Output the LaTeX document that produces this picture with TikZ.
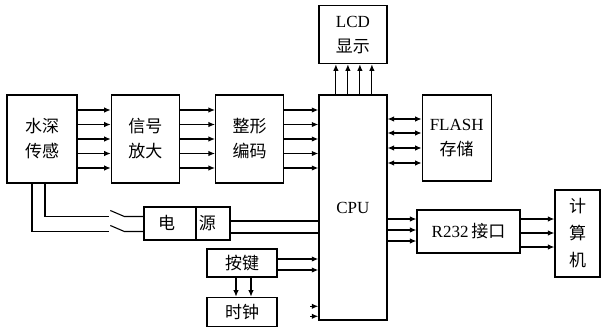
\documentclass[tikz,border=0pt]{standalone}
\usepackage{fontspec}
\setmainfont{Liberation Serif}
\newfontfamily\cjk{Noto Sans CJK SC}
\usetikzlibrary{arrows.meta,positioning}

\begin{document}
\begin{tikzpicture}[
    x=1pt, y=1pt,
    node distance=34pt and 34pt,
    box/.style={draw, line width=1.3pt, align=center, inner sep=0pt, font=\fontsize{17}{25}\selectfont},
    arrow/.style={-{Latex[length=6.5pt,width=5.5pt]}, line width=1.1pt},
    biarrow/.style={{Latex[length=6.5pt,width=5.5pt]}-{Latex[length=6.5pt,width=5.5pt]}, line width=1.1pt},
    wire/.style={line width=1.1pt}
]
    \useasboundingbox (0,0) rectangle (603,-327);
    % main chain
    \node[box, minimum width=70pt, minimum height=88pt] (sensor) at (42,-139) {\cjk 水深\\\cjk 传感};
    \node[box, minimum width=68pt, minimum height=88pt, right=33pt of sensor] (amp) {\cjk 信号\\\cjk 放大};
    \node[box, minimum width=68pt, minimum height=88pt, right=35pt of amp] (shaper) {\cjk 整形\\\cjk 编码};
    \node[box, minimum width=68pt, minimum height=225pt, anchor=north west] (cpu) at ([xshift=34pt]shaper.north east) {CPU};
    \node[box, minimum width=68pt, minimum height=58pt, above=30pt of cpu] (lcd) {LCD\\{\cjk 显示}};
    \node[box, minimum width=69pt, minimum height=86pt, anchor=north west] (flash) at ([xshift=34pt]cpu.north east) {FLASH\\{\cjk 存储}};
    \node[box, minimum width=103pt, minimum height=43pt] (r232) at (468.5,-231.5) {R232\,{\cjk 接口}};
    \node[box, minimum width=45pt, minimum height=87pt, font=\fontsize{17}{27}\selectfont] (pc) at (577.5,-233.5) {\cjk 计\\\cjk 算\\\cjk 机};
    % power, keys, clock
    \node[box, minimum width=86pt, minimum height=33pt] (power) at (187,-223.5) {\cjk 电\hspace{24pt}源};
    \node[box, minimum width=70pt, minimum height=28pt] (keys) at (242,-263) {\cjk 按键};
    \node[box, minimum width=70pt, minimum height=29pt, below=19pt of keys] (clock) {\cjk 时钟};
    \draw[line width=1.1pt] ([xshift=9pt]power.north) -- ([xshift=9pt]power.south);

    \foreach \d in {29,14.5,0,-14.5,-29} {
        \draw[arrow] ([yshift=\d pt]sensor.east) -- ([yshift=\d pt]amp.west);
        \draw[arrow] ([yshift=\d pt]amp.east) -- ([yshift=\d pt]shaper.west);
        \draw[arrow] ([yshift=\d pt]shaper.east) -- ([yshift=\d pt]shaper.east -| cpu.west);
    }
    \foreach \d in {-17,-5,7,19}
        \draw[arrow] ([xshift=\d pt]cpu.north) -- ([xshift=\d pt]lcd.south);
    \foreach \d in {19,5,-10,-25}
        \draw[biarrow] ([yshift=\d pt]flash.west -| cpu.east) -- ([yshift=\d pt]flash.west);
    \foreach \d in {12.5,1.5,-9.5}
        \draw[arrow] ([yshift=\d pt]r232.west -| cpu.east) -- ([yshift=\d pt]r232.west);
    \foreach \d in {12.5,-1.5,-15.5}
        \draw[arrow] ([yshift=\d pt]r232.east) -- ([yshift=\d pt]r232.east -| pc.west);

    % supply lines with switches
    \coordinate (swA) at ([xshift=-34pt,yshift=7pt]power.west);
    \coordinate (swB) at ([xshift=-34pt,yshift=-8pt]power.west);
    \draw[wire] ([xshift=3pt]sensor.south) |- (swA);
    \draw[wire] ([xshift=-10pt]sensor.south) |- (swB);
    \draw[wire] ([xshift=1pt,yshift=6pt]swA) -- ([xshift=15pt]swA) -- ([yshift=7pt]power.west);
    \draw[wire] ([xshift=1pt,yshift=6pt]swB) -- ([xshift=15pt]swB) -- ([yshift=-8pt]power.west);
    \draw[wire] ([yshift=2.5pt]power.east) -- ([yshift=2.5pt]power.east -| cpu.west);
    \draw[wire, line width=1.6pt] ([yshift=-9.5pt]power.east) -- ([yshift=-9.5pt]power.east -| cpu.west);

    \foreach \d in {4,-7}
        \draw[arrow] ([yshift=\d pt]keys.east) -- ([yshift=\d pt]keys.east -| cpu.west);
    \foreach \d in {-6,9}
        \draw[arrow] ([xshift=\d pt]keys.south) -- ([xshift=\d pt]clock.north);
    \foreach \d in {5.5,-4.5}
        \draw[arrow] ([xshift=-8pt,yshift=\d pt]clock.east -| cpu.west) -- ([yshift=\d pt]clock.east -| cpu.west);
\end{tikzpicture}
\end{document}
